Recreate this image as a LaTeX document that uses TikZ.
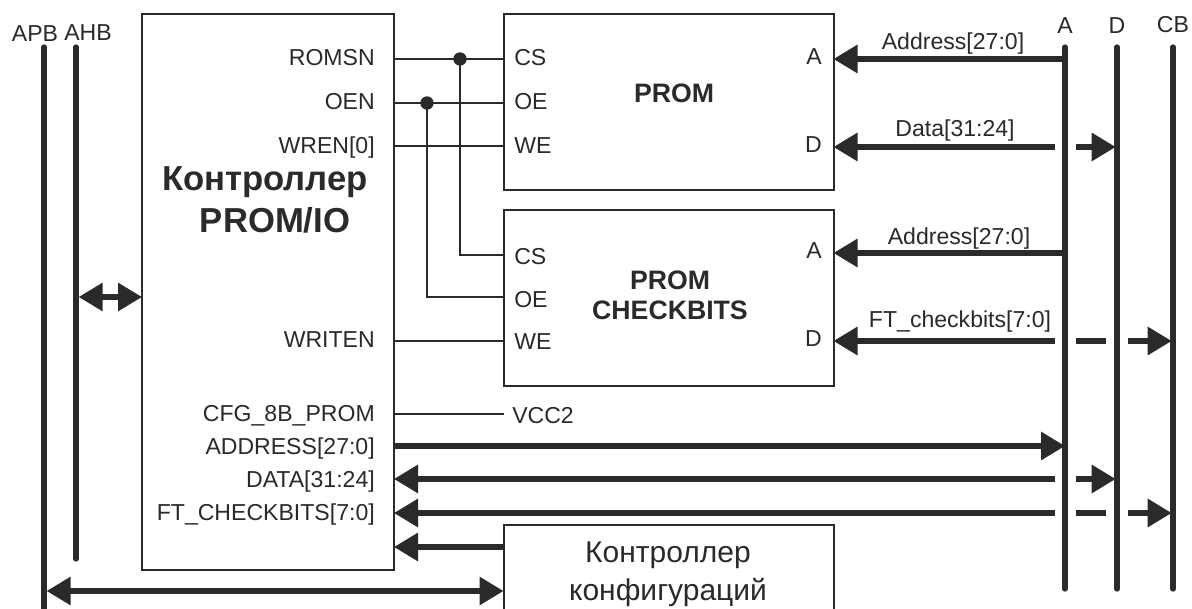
\documentclass[tikz,border=0pt]{standalone}
\usepackage{fontspec}
\setmainfont{Liberation Sans}
\usepackage{xcolor}
\usetikzlibrary{arrows.meta}
\definecolor{ink}{HTML}{2B2A29}

\begin{document}
\begin{tikzpicture}[x=0.75pt, y=-0.75pt, every node/.style={text=ink},
  blk/.style={draw=ink, line width=1.5pt, anchor=north west, outer sep=0pt, inner sep=0pt},
  sig/.style={draw=ink, line width=1.5pt},
  bus/.style={draw=ink, line width=3.9pt, line cap=round},
  arr/.style={draw=ink, line width=3.9pt, -{Triangle[length=18pt,width=20.5pt]}},
  arrboth/.style={draw=ink, line width=3.9pt, {Triangle[length=18pt,width=20.5pt]}-{Triangle[length=18pt,width=20.5pt]}},
  dot/.style={circle, fill=ink, inner sep=0pt, minimum size=10pt},
  pinl/.style={font=\fontsize{17.3}{20}\selectfont, anchor=mid east, inner sep=0pt, yshift=-3.25pt},
  pinr/.style={font=\fontsize{17.3}{20}\selectfont, anchor=mid west, inner sep=0pt, yshift=-3.25pt},
  txt/.style={font=\fontsize{17.3}{20}\selectfont, inner sep=0pt},
  head/.style={font=\fontsize{20}{24}\selectfont\bfseries, align=center, inner sep=0pt}]
  \clip (0,0) rectangle (1192,609);
  \fill[white] (0,0) rectangle (1192,609);

  % Blocks
  \node[blk, minimum width=189pt, minimum height=417pt] (ctrl) at (142,14) {};
  \node[blk, minimum width=247.5pt, minimum height=132pt] (prom) at (503.5,14) {};
  \node[blk, minimum width=247.5pt, minimum height=132pt] (check) at (503.5,210) {};
  \node[blk, minimum width=247.5pt, minimum height=90pt] (conf) at (503.5,525) {};

  \node[head, font=\fontsize{26}{30}\selectfont\bfseries] (ctrlname) at (265,182) {Контроллер};
  \node[head, font=\fontsize{26}{30}\selectfont\bfseries] (ctrlname2) at (275,220) {PROM/IO};
  \node[head] (promname) at (674,93) {PROM};
  \node[head, font=\fontsize{20}{22.5}\selectfont\bfseries] (checkname) at (670,295) {PROM\\CHECKBITS};
  \node[txt, font=\fontsize{22.5}{28.5}\selectfont, align=center] (confname) at (668,574) {Контроллер\\конфигураций};

  % Controller pins
  \foreach \nm/\yy/\lab in {romsn/58/ROMSN, oen/102/OEN, wren/146/WREN[0], writen/340/WRITEN,
      cfg/414/CFG\_8B\_PROM, addr/447/ADDRESS[27:0], data/480/DATA[31:24], ftc/513/FT\_CHECKBITS[7:0]}
    \node[pinl] (\nm) at (375,\yy) {\lab};

  % PROM pins
  \node[pinr] (csa) at (514,58) {CS};
  \node[pinr] (oea) at (514,102) {OE};
  \node[pinr] (wea) at (514,146) {WE};
  \node[pinr] (csb) at (514,257) {CS};
  \node[pinr] (oeb) at (514,300) {OE};
  \node[pinr] (web) at (514,342) {WE};
  \node[pinl] (aa) at (822,57) {A};
  \node[pinl] (da) at (822,145) {D};
  \node[pinl] (ab) at (822,251) {A};
  \node[pinl] (db) at (822,339) {D};
  \node[pinr] (vcc) at (512,416) {VCC2};

  % Bus names
  \node[txt] (apbname) at (35,34) {APB};
  \node[txt] (ahbname) at (88,33) {AHB};
  \node[txt] (aname) at (1065,26) {A};
  \node[txt] (dname) at (1117,26) {D};
  \node[txt] (cbname) at (1173,25) {CB};

  % Buses
  \coordinate (apbt) at (44,47);
  \coordinate (apbb) at (44,620);
  \coordinate (ahbt) at (76,47);
  \coordinate (ahbb) at (76,559);
  \coordinate (at) at (1065,47);
  \coordinate (ab2) at (1065,589);
  \coordinate (dt) at (1117,47);
  \coordinate (db2) at (1117,589);
  \coordinate (cbt) at (1173,47);
  \coordinate (cbb) at (1173,589);
  \draw[bus] (apbt) -- (apbb);
  \draw[bus] (ahbt) -- (ahbb);
  \draw[bus] (at) -- (ab2);
  \draw[bus] (dt) -- (db2);
  \draw[bus] (cbt) -- (cbb);

  % Thin signals
  \coordinate (csy) at (0,59);
  \coordinate (oey) at (0,103);
  \coordinate (wey) at (0,146);
  \draw[sig] (ctrl.east |- csy) -- (prom.west |- csy);
  \draw[sig] (ctrl.east |- oey) -- (prom.west |- oey);
  \draw[sig] (ctrl.east |- wey) -- (prom.west |- wey);
  \node[dot] (csdot) at (460,59) {};
  \node[dot] (oedot) at (427,103) {};
  \coordinate (csbend) at (460,255);
  \coordinate (oebend) at (427,297);
  \draw[sig] (csdot.center) -- (csbend) -- (check.west |- csbend);
  \draw[sig] (oedot.center) -- (oebend) -- (check.west |- oebend);
  \coordinate (weby) at (0,341);
  \coordinate (cfgy) at (0,414);
  \draw[sig] (ctrl.east |- weby) -- (check.west |- weby);
  \draw[sig] (ctrl.east |- cfgy) -- (prom.west |- cfgy);

  % Heavy arrows, upper part
  \coordinate (gapl) at (1055,0);
  \coordinate (gapr) at (1076,0);
  \coordinate (gapc) at (1106,0);
  \coordinate (cbl) at (1128,0);
  \coordinate (y1) at (0,59);
  \coordinate (y2) at (0,147);
  \coordinate (y3) at (0,253);
  \coordinate (y4) at (0,341);
  \coordinate (y5) at (0,446);
  \coordinate (y6) at (0,479);
  \coordinate (y7) at (0,513);
  \coordinate (y8) at (0,547);
  \coordinate (y9) at (0,591);
  \draw[arr] (at |- y1) -- (prom.east |- y1);
  \draw[arr] (gapl |- y2) -- (prom.east |- y2);
  \draw[arr] (gapr |- y2) -- ([xshift=-1pt]dt |- y2);
  \draw[arr] (at |- y3) -- (check.east |- y3);
  \draw[arr] (gapl |- y4) -- (check.east |- y4);
  \draw[draw=ink, line width=3.9pt] (gapr |- y4) -- (gapc |- y4);
  \draw[arr] (cbl |- y4) -- ([xshift=-1pt]cbt |- y4);

  % Heavy arrows, lower part
  \draw[arr] (ctrl.east |- y5) -- (at |- y5);
  \draw[arr] (gapl |- y6) -- (ctrl.east |- y6);
  \draw[arr] (gapr |- y6) -- ([xshift=-1pt]dt |- y6);
  \draw[arr] (gapl |- y7) -- (ctrl.east |- y7);
  \draw[draw=ink, line width=3.9pt] (gapr |- y7) -- (gapc |- y7);
  \draw[arr] (cbl |- y7) -- ([xshift=-1pt]cbt |- y7);
  \draw[arr] (conf.west |- y8) -- (ctrl.east |- y8);
  \draw[arrboth] ([xshift=2pt]apbt |- y9) -- (conf.west |- y9);
  \coordinate (y10) at (0,297);
  \draw[arrboth] ([xshift=2pt]ahbt |- y10) -- (ctrl.west |- y10);

  % Bus signal names
  \node[txt] (lba) at (953,44) {Address[27:0]};
  \node[txt] (lbb) at (955,131) {Data[31:24]};
  \node[txt] (lbc) at (959,239) {Address[27:0]};
  \node[txt] (lbd) at (960,322) {FT\_checkbits[7:0]};
\end{tikzpicture}
\end{document}
